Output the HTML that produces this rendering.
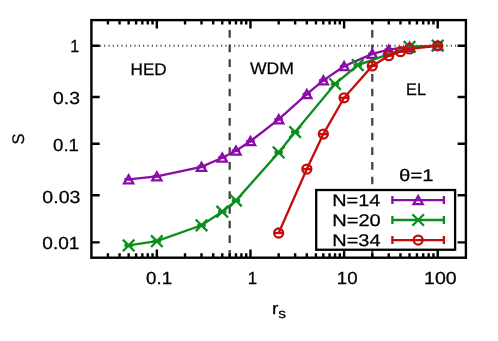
<!DOCTYPE html>
<html><head><meta charset="utf-8"><title>plot</title><style>html,body{margin:0;padding:0;background:#fff;overflow:hidden}</style></head><body>
<svg width="498" height="341" viewBox="0 0 498 341" style="display:block">
<rect width="498" height="341" fill="#fff"/>
<line x1="229.70" y1="257.70" x2="229.70" y2="20.10" stroke="#444" stroke-width="2.3" stroke-dasharray="7.7 6.97"/>
<line x1="372.27" y1="257.70" x2="372.27" y2="20.10" stroke="#444" stroke-width="2.3" stroke-dasharray="7.7 6.97"/>
<line x1="91.40" y1="45.80" x2="465.90" y2="45.80" stroke="#444" stroke-width="2" stroke-dasharray="1.1 3.233" stroke-dashoffset="-4.07"/>
<g stroke="#8a0ca9" fill="none" stroke-width="2.3">
<polyline points="128.66,179.40 156.84,176.40 201.51,166.90 222.28,157.70 235.96,150.70 250.47,141.20 278.65,119.30 306.83,94.20 323.32,80.40 344.09,66.20 372.27,53.90 388.76,49.60 409.53,46.80 437.72,45.70"/>
<path d="M128.66,175.30 L124.06,183.40 L133.26,183.40 Z"/>
<line x1="124.46" y1="179.40" x2="132.86" y2="179.40" stroke-width="2.6"/>
<path d="M156.84,172.30 L152.24,180.40 L161.44,180.40 Z"/>
<line x1="152.64" y1="176.40" x2="161.04" y2="176.40" stroke-width="2.6"/>
<path d="M201.51,162.80 L196.91,170.90 L206.11,170.90 Z"/>
<line x1="197.31" y1="166.90" x2="205.71" y2="166.90" stroke-width="2.6"/>
<path d="M222.28,153.60 L217.68,161.70 L226.88,161.70 Z"/>
<line x1="218.08" y1="157.70" x2="226.48" y2="157.70" stroke-width="2.6"/>
<path d="M235.96,146.60 L231.36,154.70 L240.56,154.70 Z"/>
<line x1="231.76" y1="150.70" x2="240.16" y2="150.70" stroke-width="2.6"/>
<path d="M250.47,137.10 L245.87,145.20 L255.07,145.20 Z"/>
<line x1="246.27" y1="141.20" x2="254.67" y2="141.20" stroke-width="2.6"/>
<path d="M278.65,115.20 L274.05,123.30 L283.25,123.30 Z"/>
<line x1="274.45" y1="119.30" x2="282.85" y2="119.30" stroke-width="2.6"/>
<path d="M306.83,90.10 L302.23,98.20 L311.43,98.20 Z"/>
<line x1="302.63" y1="94.20" x2="311.03" y2="94.20" stroke-width="2.6"/>
<path d="M323.32,76.30 L318.72,84.40 L327.92,84.40 Z"/>
<line x1="319.12" y1="80.40" x2="327.52" y2="80.40" stroke-width="2.6"/>
<path d="M344.09,62.10 L339.49,70.20 L348.69,70.20 Z"/>
<line x1="339.89" y1="66.20" x2="348.29" y2="66.20" stroke-width="2.6"/>
<path d="M372.27,49.80 L367.67,57.90 L376.88,57.90 Z"/>
<line x1="368.07" y1="53.90" x2="376.47" y2="53.90" stroke-width="2.6"/>
<path d="M388.76,45.50 L384.16,53.60 L393.36,53.60 Z"/>
<line x1="384.56" y1="49.60" x2="392.96" y2="49.60" stroke-width="2.6"/>
<path d="M409.53,42.70 L404.93,50.80 L414.13,50.80 Z"/>
<line x1="405.33" y1="46.80" x2="413.73" y2="46.80" stroke-width="2.6"/>
<path d="M437.72,41.60 L433.12,49.70 L442.32,49.70 Z"/>
<line x1="433.52" y1="45.70" x2="441.92" y2="45.70" stroke-width="2.6"/>
</g>
<g stroke="#0c8e1e" fill="none" stroke-width="2.3">
<polyline points="128.66,245.40 156.84,241.20 201.51,225.30 222.28,211.70 235.96,200.60 278.65,152.40 295.14,132.10 335.02,84.00 357.77,65.10 409.53,46.90 437.72,45.70"/>
<path d="M122.86,239.60 L134.46,251.20 M122.86,251.20 L134.46,239.60"/>
<line x1="124.46" y1="245.40" x2="132.86" y2="245.40" stroke-width="3"/>
<path d="M151.04,235.40 L162.64,247.00 M151.04,247.00 L162.64,235.40"/>
<line x1="152.64" y1="241.20" x2="161.04" y2="241.20" stroke-width="3"/>
<path d="M195.71,219.50 L207.31,231.10 M195.71,231.10 L207.31,219.50"/>
<line x1="197.31" y1="225.30" x2="205.71" y2="225.30" stroke-width="3"/>
<path d="M216.48,205.90 L228.08,217.50 M216.48,217.50 L228.08,205.90"/>
<line x1="218.08" y1="211.70" x2="226.48" y2="211.70" stroke-width="3"/>
<path d="M230.16,194.80 L241.76,206.40 M230.16,206.40 L241.76,194.80"/>
<line x1="231.76" y1="200.60" x2="240.16" y2="200.60" stroke-width="3"/>
<path d="M272.85,146.60 L284.45,158.20 M272.85,158.20 L284.45,146.60"/>
<line x1="274.45" y1="152.40" x2="282.85" y2="152.40" stroke-width="3"/>
<path d="M289.34,126.30 L300.94,137.90 M289.34,137.90 L300.94,126.30"/>
<line x1="290.94" y1="132.10" x2="299.34" y2="132.10" stroke-width="3"/>
<path d="M329.22,78.20 L340.82,89.80 M329.22,89.80 L340.82,78.20"/>
<line x1="330.82" y1="84.00" x2="339.22" y2="84.00" stroke-width="3"/>
<path d="M351.97,59.30 L363.57,70.90 M351.97,70.90 L363.57,59.30"/>
<line x1="353.57" y1="65.10" x2="361.97" y2="65.10" stroke-width="3"/>
<path d="M403.73,41.10 L415.33,52.70 M403.73,52.70 L415.33,41.10"/>
<line x1="405.33" y1="46.90" x2="413.73" y2="46.90" stroke-width="3"/>
<path d="M431.92,39.90 L443.52,51.50 M431.92,51.50 L443.52,39.90"/>
<line x1="433.52" y1="45.70" x2="441.92" y2="45.70" stroke-width="3"/>
</g>
<g stroke="#c50c0c" fill="none" stroke-width="2.3">
<polyline points="278.65,233.00 306.83,169.10 323.32,134.10 344.09,97.80 372.27,65.90 388.76,55.70 400.46,51.70 409.53,48.90 437.72,45.80"/>
<circle cx="278.65" cy="233.00" r="4.5"/>
<line x1="274.45" y1="233.00" x2="282.85" y2="233.00" stroke-width="2.3"/>
<circle cx="306.83" cy="169.10" r="4.5"/>
<line x1="302.63" y1="169.10" x2="311.03" y2="169.10" stroke-width="2.3"/>
<circle cx="323.32" cy="134.10" r="4.5"/>
<line x1="319.12" y1="134.10" x2="327.52" y2="134.10" stroke-width="2.3"/>
<circle cx="344.09" cy="97.80" r="4.5"/>
<line x1="339.89" y1="97.80" x2="348.29" y2="97.80" stroke-width="2.3"/>
<circle cx="372.27" cy="65.90" r="4.5"/>
<line x1="368.07" y1="65.90" x2="376.47" y2="65.90" stroke-width="2.3"/>
<circle cx="388.76" cy="55.70" r="4.5"/>
<line x1="384.56" y1="55.70" x2="392.96" y2="55.70" stroke-width="2.3"/>
<circle cx="400.46" cy="51.70" r="4.5"/>
<line x1="396.26" y1="51.70" x2="404.66" y2="51.70" stroke-width="2.3"/>
<circle cx="409.53" cy="48.90" r="4.5"/>
<line x1="405.33" y1="48.90" x2="413.73" y2="48.90" stroke-width="2.3"/>
<circle cx="437.72" cy="45.80" r="4.5"/>
<line x1="433.52" y1="45.80" x2="441.92" y2="45.80" stroke-width="2.3"/>
</g>
<rect x="316.2" y="190.0" width="138.90" height="59.75" fill="#fff" stroke="#000" stroke-width="2.3"/>
<g stroke="#8a0ca9" fill="none" stroke-width="2.3">
<path d="M392.4,200.1 L443.9,200.1 M392.4,196.1 L392.4,204.1 M443.9,196.1 L443.9,204.1"/>
<path d="M418.15,196.00 L413.55,204.10 L422.75,204.10 Z"/>
</g>
<g stroke="#0c8e1e" fill="none" stroke-width="2.3">
<path d="M392.4,220.0 L443.9,220.0 M392.4,216.0 L392.4,224.0 M443.9,216.0 L443.9,224.0"/>
<path d="M412.35,214.20 L423.95,225.80 M412.35,225.80 L423.95,214.20"/>
</g>
<g stroke="#c50c0c" fill="none" stroke-width="2.3">
<path d="M392.4,240.1 L443.9,240.1 M392.4,236.1 L392.4,244.1 M443.9,236.1 L443.9,244.1"/>
<circle cx="418.15" cy="240.10" r="4.5"/>
</g>
<g stroke="#000" stroke-width="2.4" fill="none">
<rect x="91.4" y="20.1" width="374.50" height="237.60"/>
<path d="M107.89,257.7 v-4.5 M107.89,20.1 v4.5 M119.58,257.7 v-4.5 M119.58,20.1 v4.5 M128.66,257.7 v-4.5 M128.66,20.1 v4.5 M136.07,257.7 v-4.5 M136.07,20.1 v4.5 M142.34,257.7 v-4.5 M142.34,20.1 v4.5 M147.77,257.7 v-4.5 M147.77,20.1 v4.5 M152.56,257.7 v-4.5 M152.56,20.1 v4.5 M156.84,257.7 v-8.3 M156.84,20.1 v8.3 M185.03,257.7 v-4.5 M185.03,20.1 v4.5 M201.51,257.7 v-4.5 M201.51,20.1 v4.5 M213.21,257.7 v-4.5 M213.21,20.1 v4.5 M222.28,257.7 v-4.5 M222.28,20.1 v4.5 M229.70,257.7 v-4.5 M229.70,20.1 v4.5 M235.96,257.7 v-4.5 M235.96,20.1 v4.5 M241.39,257.7 v-4.5 M241.39,20.1 v4.5 M246.18,257.7 v-4.5 M246.18,20.1 v4.5 M250.47,257.7 v-8.3 M250.47,20.1 v8.3 M278.65,257.7 v-4.5 M278.65,20.1 v4.5 M295.14,257.7 v-4.5 M295.14,20.1 v4.5 M306.83,257.7 v-4.5 M306.83,20.1 v4.5 M315.91,257.7 v-4.5 M315.91,20.1 v4.5 M323.32,257.7 v-4.5 M323.32,20.1 v4.5 M329.59,257.7 v-4.5 M329.59,20.1 v4.5 M335.02,257.7 v-4.5 M335.02,20.1 v4.5 M339.81,257.7 v-4.5 M339.81,20.1 v4.5 M344.09,257.7 v-8.3 M344.09,20.1 v8.3 M372.27,257.7 v-4.5 M372.27,20.1 v4.5 M388.76,257.7 v-4.5 M388.76,20.1 v4.5 M400.46,257.7 v-4.5 M400.46,20.1 v4.5 M409.53,257.7 v-4.5 M409.53,20.1 v4.5 M416.95,257.7 v-4.5 M416.95,20.1 v4.5 M423.21,257.7 v-4.5 M423.21,20.1 v4.5 M428.64,257.7 v-4.5 M428.64,20.1 v4.5 M433.43,257.7 v-4.5 M433.43,20.1 v4.5 M437.72,257.7 v-8.3 M437.72,20.1 v8.3 M91.4,45.80 h8.3 M465.9,45.80 h-8.3 M91.4,96.95 h8.3 M465.9,96.95 h-8.3 M91.4,143.70 h8.3 M465.9,143.70 h-8.3 M91.4,195.30 h8.3 M465.9,195.30 h-8.3 M91.4,242.40 h8.3 M465.9,242.40 h-8.3 "/>
</g>
<g font-family="Liberation Sans, sans-serif" font-size="16.8" fill="#000" stroke="#000" stroke-width="0.25" text-rendering="geometricPrecision" style="filter:grayscale(1)">
<text transform="translate(70.33,52.10) scale(0.963,1.04)">1</text>
<text transform="translate(53.05,103.80) scale(1.152,1.04)">0.3</text>
<text transform="translate(53.08,150.60) scale(1.106,1.04)">0.1</text>
<text transform="translate(42.34,202.50) scale(1.164,1.04)">0.03</text>
<text transform="translate(42.36,249.10) scale(1.135,1.04)">0.01</text>
<text transform="translate(146.07,284.30) scale(1.115,1.04)">0.1</text>
<text transform="translate(247.67,284.30) scale(1.005,1.04)">1</text>
<text transform="translate(336.83,284.30) scale(1.110,1.04)">10</text>
<text transform="translate(424.06,284.30) scale(1.162,1.04)">100</text>
<text transform="translate(130.55,74.70) scale(1.021,1)">HED</text>
<text transform="translate(249.94,74.45) scale(1.049,1)">WDM</text>
<text transform="translate(406.11,95.30) scale(0.974,1)">EL</text>
<text transform="translate(399.10,180.80) scale(1.215,1)">θ=1</text>
<text transform="translate(332.23,206.10) scale(1.184,1)">N=14</text>
<text transform="translate(332.21,226.00) scale(1.195,1)">N=20</text>
<text transform="translate(332.22,245.90) scale(1.189,1)">N=34</text>
<text transform="translate(271.89,313.90) scale(1.133,1)">r</text>
<text font-size="13.44" transform="translate(278.24,317.9) scale(1.142,1)">s</text>
<text transform="translate(24.2,144.42) rotate(-90) scale(0.982,1)">S</text>
</g>
</svg>
</body></html>
